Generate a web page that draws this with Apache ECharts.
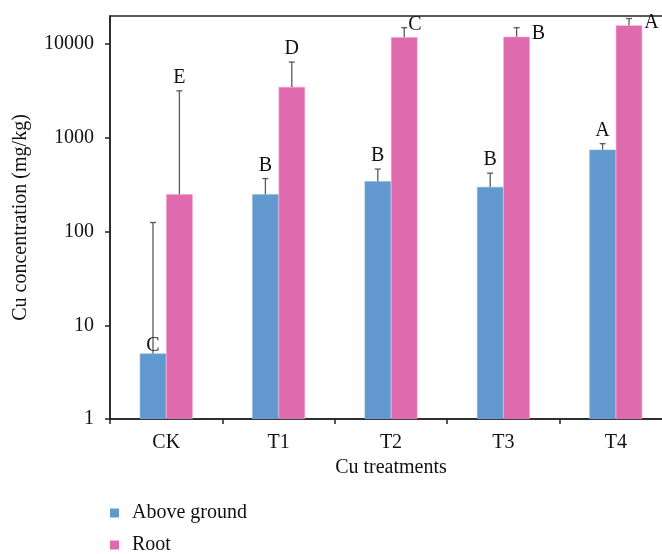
<!DOCTYPE html>
<html>
<head>
<meta charset="utf-8">
<script src="https://cdn.jsdelivr.net/npm/echarts@6/dist/echarts.min.js"></script>
<style>
html,body{margin:0;padding:0;background:#fff;}
#chart{width:662px;height:554px;}
</style>
</head>
<body>
<div id="chart"></div>
<script>
// ---- data ----
var categories = ['CK', 'T1', 'T2', 'T3', 'T4'];
var seriesNames = ['Above ground', 'Root'];
var aboveGround = [5, 250, 345, 300, 750];
var aboveGroundErrTop = [125, 368, 465, 420, 868];
var aboveGroundLetters = ['C', 'B', 'B', 'B', 'A'];
var root = [250, 3500, 11900, 12000, 15900];
var rootErrTop = [3180, 6450, 15000, 15000, 18800];
var rootLetters = ['E', 'D', 'C', 'B', 'A'];
var yTicks = [1, 10, 100, 1000, 10000];
// letter placement: 'bar' = above bar top, 'err' = above error cap,
// 'capRight' = right of error cap, 'barRight' = right of bar top
var aboveGroundLetterSide = ['bar', 'err', 'err', 'err', 'err'];
var rootLetterSide = ['err', 'err', 'capRight', 'barRight', 'barRight'];

var FONT = '"Liberation Serif", "DejaVu Serif", serif';
var FS = 20;
var colors = ['#6199CE', '#E06AAE'];
var CAT_GAP = 0.53;

function errData(vals, errs) {
  return vals.map(function (v, i) { return [i, v, errs[i]]; });
}

function makeRender(side, letters, sides) {
  return function (params, api) {
    var i = params.dataIndex;
    var cat = api.value(0);
    var val = api.value(1);
    var err = api.value(2);
    var letter = letters[i];
    var place = sides[i];
    var band = api.size([1, 0])[0];
    var barW = band * (1 - CAT_GAP) / 2;
    var pBar = api.coord([cat, val]);
    var pErr = api.coord([cat, err]);
    var x = pBar[0] + side * barW / 2;
    var cap = 3;
    var children = [
      { type: 'line', shape: { x1: x, y1: pBar[1], x2: x, y2: pErr[1] },
        style: { stroke: '#5a5a5a', lineWidth: 1.3 } },
      { type: 'line', shape: { x1: x - cap, y1: pErr[1], x2: x + cap, y2: pErr[1] },
        style: { stroke: '#5a5a5a', lineWidth: 1.3 } }
    ];
    var t;
    if (place === 'capRight') {
      t = { x: x + 4, y: pErr[1] - 3, align: 'left', verticalAlign: 'middle' };
    } else if (place === 'barRight') {
      t = { x: x + barW / 2 + 2, y: pBar[1] - 3, align: 'left', verticalAlign: 'middle' };
    } else if (place === 'bar') {
      t = { x: x, y: pBar[1] + 2, align: 'center', verticalAlign: 'bottom' };
    } else {
      t = { x: x, y: pErr[1] - 3, align: 'center', verticalAlign: 'bottom' };
    }
    children.push({
      type: 'text', x: t.x, y: t.y,
      style: { text: letter, fill: '#111', font: FS + 'px ' + FONT, align: t.align, verticalAlign: t.verticalAlign }
    });
    return { type: 'group', children: children };
  };
}

function legendItem(name, top) {
  return {
    orient: 'vertical', left: 110, top: top, padding: 0,
    itemWidth: 9, itemHeight: 9,
    icon: 'rect', itemStyle: { borderWidth: 0 },
    textStyle: { fontFamily: FONT, fontSize: FS, color: '#111', padding: [0, 0, 0, 8] },
    data: [name]
  };
}

var chart = echarts.init(document.getElementById('chart'));
chart.setOption({
  animation: false,
  backgroundColor: '#fff',
  grid: { left: 110, width: 562, top: 16, height: 403, outerBoundsMode: 'none', containLabel: false,
    show: true, borderColor: '#222', borderWidth: 1.5, backgroundColor: 'transparent' },
  legend: [legendItem(seriesNames[0], 503), legendItem(seriesNames[1], 535)],
  xAxis: {
    type: 'category', data: categories,
    name: 'Cu treatments', nameLocation: 'middle', nameGap: 35,
    nameTextStyle: { fontFamily: FONT, fontSize: FS, color: '#111' },
    axisLine: { lineStyle: { color: '#222', width: 1.5 } },
    axisTick: { show: true, length: 5, lineStyle: { color: '#222', width: 1.5 } },
    axisLabel: { fontFamily: FONT, fontSize: FS, color: '#111', margin: 14 },
    splitLine: { show: false }
  },
  yAxis: {
    type: 'log', logBase: 10, min: yTicks[0], max: 20000,
    name: 'Cu concentration (mg/kg)', nameLocation: 'middle', nameGap: 79,
    nameTextStyle: { fontFamily: FONT, fontSize: FS, color: '#111' },
    axisLine: { show: true, lineStyle: { color: '#222', width: 1.5 } },
    axisTick: { show: true, length: 5, lineStyle: { color: '#222', width: 1.5 } },
    axisLabel: { fontFamily: FONT, fontSize: FS, color: '#111', margin: 16, showMaxLabel: false,
      formatter: function (v) { return yTicks.indexOf(Math.round(v)) >= 0 ? String(Math.round(v)) : ''; } },
    splitLine: { show: false }
  },
  series: [
    { name: seriesNames[0], type: 'bar', data: aboveGround, barGap: '0%', barCategoryGap: (CAT_GAP * 100) + '%',
      itemStyle: { color: colors[0], borderColor: '#8ab5de', borderWidth: 0.6 } },
    { name: seriesNames[1], type: 'bar', data: root, barGap: '0%', barCategoryGap: (CAT_GAP * 100) + '%',
      itemStyle: { color: colors[1], borderColor: '#f09ccb', borderWidth: 0.6 } },
    { type: 'custom', renderItem: makeRender(-1, aboveGroundLetters, aboveGroundLetterSide), data: errData(aboveGround, aboveGroundErrTop),
      encode: { x: 0, y: 1 }, z: 5, silent: true, clip: false },
    { type: 'custom', renderItem: makeRender(1, rootLetters, rootLetterSide), data: errData(root, rootErrTop),
      encode: { x: 0, y: 1 }, z: 5, silent: true, clip: false }
  ]
});
</script>
</body>
</html>
